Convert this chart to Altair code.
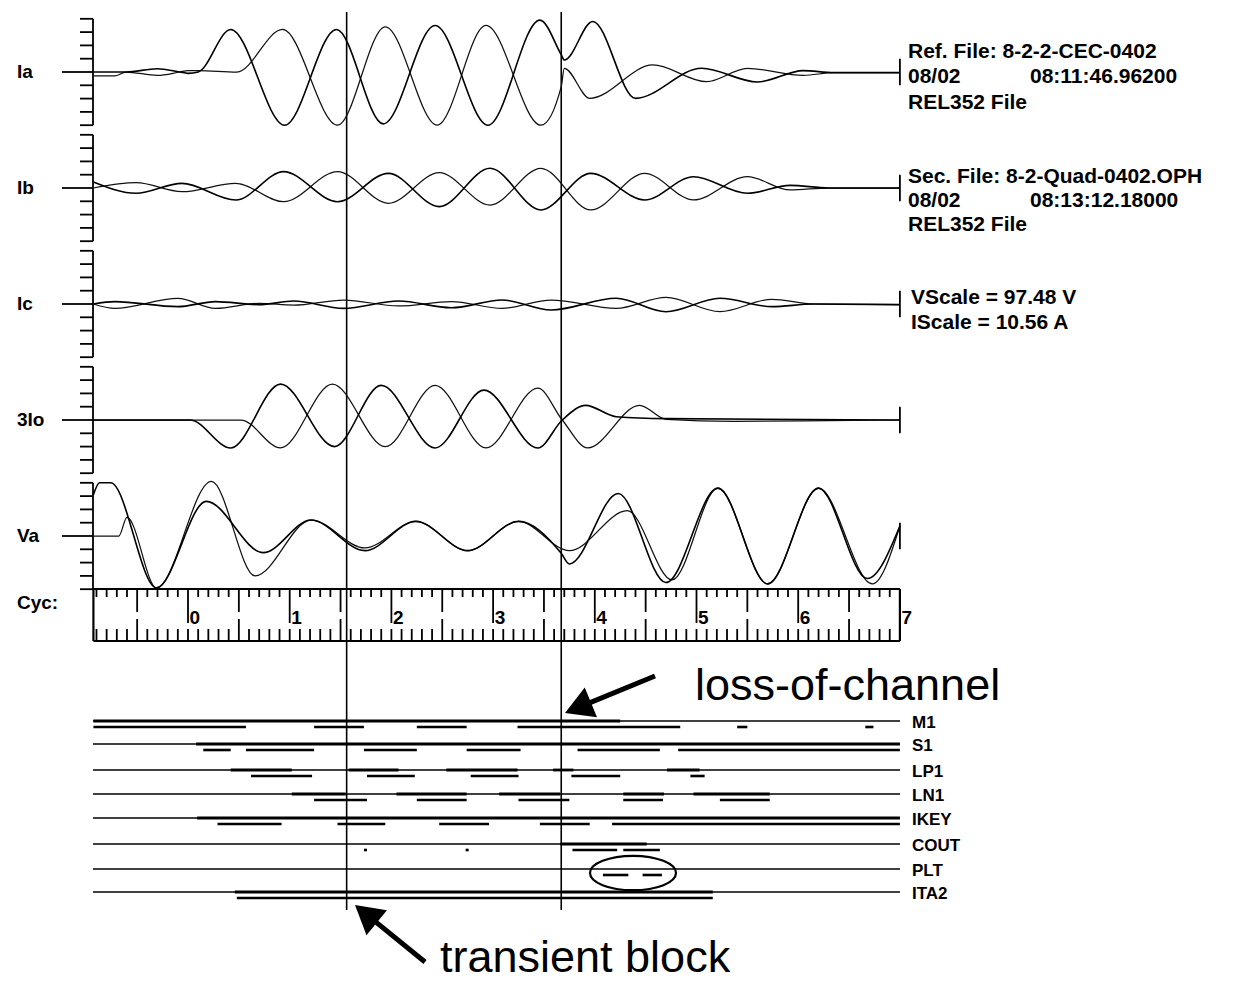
import math
import altair as alt
import numpy as np
import pandas as pd

# ----------------------------------------------------------------- data
# analog traces: time in cycles, value in scale divisions (ref file / sec file)
IA_REF_T = [-0.93, -0.72, -0.61, -0.30, -0.08, 0.00, 0.10, 0.42, 0.95, 1.46, 1.92, 2.43, 2.95, 3.46, 3.67, 3.70, 3.98, 4.40, 5.05, 5.60, 6.05, 6.35, 7.00]
IA_REF_V = [0.0, 0.0, 0.0, 0.25, 0.0, -0.1, 0.0, 3.2, -4.0, 3.2, -3.9, 3.5, -4.0, 3.9, 1.3, 0.9, 3.8, -1.98, 0.28, -0.75, 0.1, -0.05, -0.05]
IA_SEC_T = [-0.93, -0.72, -0.61, -0.30, -0.08, 0.00, 0.10, 0.48, 0.93, 1.47, 1.94, 2.45, 2.93, 3.47, 3.67, 3.70, 3.95, 4.57, 5.10, 5.50, 6.05, 6.35, 7.00]
IA_SEC_V = [-0.3, -0.3, 0.0, -0.25, 0.0, 0.1, 0.1, 0.0, 3.2, -4.0, 3.4, -4.0, 3.5, -4.0, -1.1, 0.28, -1.98, 0.53, -0.73, 0.28, -0.25, -0.05, -0.05]

IB_T = [-0.93, -0.51, -0.06, 0.47, 0.94, 1.47, 1.97, 2.47, 2.97, 3.47, 3.96, 4.49, 4.97, 5.50, 5.92, 6.30, 7.00]
IB_REF_V = [0.45, -0.4, 0.35, -0.9, 1.23, -1.03, 1.1, -1.4, 1.48, -1.65, 1.1, -0.9, 0.85, -0.4, 0.2, 0.0, 0.0]
IB_SEC_V = [0.0, 0.4, -0.28, 0.35, -1.03, 1.23, -1.15, 1.15, -1.28, 1.48, -1.65, 1.1, -0.9, 0.85, -0.15, 0.0, 0.0]

IC_T = [-0.93, -0.72, -0.10, 0.27, 0.70, 1.04, 1.53, 2.07, 2.59, 3.09, 3.57, 4.21, 4.70, 5.23, 5.74, 6.15, 7.00]
IC_REF_V = [0.0, 0.18, -0.2, 0.18, -0.05, 0.22, -0.33, 0.22, -0.28, 0.3, -0.45, 0.43, -0.58, 0.43, -0.2, 0.0, -0.05]
IC_SEC_V = [0.0, -0.33, 0.43, -0.33, 0.05, -0.08, 0.3, -0.15, 0.18, -0.33, 0.3, -0.33, 0.5, -0.58, 0.35, 0.0, -0.05]

I0_REF_T = [-0.93, 0.02, 0.42, 0.91, 1.44, 1.90, 2.43, 2.91, 3.44, 3.68, 3.91, 4.21, 4.70, 7.00]
I0_REF_V = [0.0, 0.0, -2.1, 2.7, -2.0, 2.6, -2.1, 2.25, -2.1, 0.0, 1.1, 0.25, 0.1, 0.0]
I0_SEC_T = [-0.93, 0.52, 0.91, 1.42, 1.94, 2.43, 2.93, 3.44, 3.68, 3.93, 4.44, 4.70, 5.36, 6.30, 7.00]
I0_SEC_V = [0.0, 0.0, -2.1, 2.7, -2.0, 2.6, -2.1, 2.4, 0.0, -2.1, 1.1, 0.05, -0.1, -0.05, 0.0]

VA_REF_T = [-0.93, -0.87, -0.76, -0.31, 0.18, 0.74, 1.21, 1.74, 2.24, 2.75, 3.25, 3.67, 3.75, 4.23, 4.70, 5.21, 5.70, 6.20, 6.68, 7.00]
VA_REF_V = [3.1, 4.0, 4.0, -3.9, 2.6, -1.25, 1.2, -1.1, 1.1, -1.1, 1.1, -1.3, -2.1, 3.2, -3.5, 3.6, -3.6, 3.6, -3.2, 0.75]
VA_SEC_T = [-0.93, -0.68, -0.60, -0.31, 0.23, 0.66, 1.21, 1.74, 2.24, 2.75, 3.25, 3.75, 4.32, 4.76, 5.21, 5.70, 6.20, 6.73, 7.00]
VA_SEC_V = [0.0, 0.0, 1.4, -3.9, 4.1, -3.0, 1.2, -0.9, 1.1, -1.1, 1.1, -1.1, 1.9, -3.3, 3.6, -3.6, 3.6, -3.6, 0.75]

CHANNELS = ["Ia", "Ib", "Ic", "3Io", "Va"]
TRACES = {
    "Ia": (IA_REF_T, IA_REF_V, IA_SEC_T, IA_SEC_V),
    "Ib": (IB_T, IB_REF_V, IB_T, IB_SEC_V),
    "Ic": (IC_T, IC_REF_V, IC_T, IC_SEC_V),
    "3Io": (I0_REF_T, I0_REF_V, I0_SEC_T, I0_SEC_V),
    "Va": (VA_REF_T, VA_REF_V, VA_SEC_T, VA_SEC_V),
}

CURSORS = [1.56, 3.67]
RULER_LABELS = [0, 1, 2, 3, 4, 5, 6, 7]
RULER_START, RULER_END = -0.93, 7.0

# digital channels: asserted intervals (cycles)
DIG_NAMES = ["M1", "S1", "LP1", "LN1", "IKEY", "COUT", "PLT", "ITA2"]
M1_REF = [(-0.93, 4.25)]
M1_SEC = [(-0.93, 0.57), (1.24, 1.73), (2.25, 2.74), (3.24, 4.84), (5.40, 5.50), (6.66, 6.74)]
S1_REF = [(0.08, 7.0)]
S1_SEC = [(0.15, 0.42), (0.57, 1.24), (1.73, 2.25), (2.74, 3.27), (3.83, 4.64), (4.82, 7.0)]
LP1_REF = [(0.42, 1.02), (1.58, 2.07), (2.54, 3.24), (3.59, 3.79), (4.71, 5.03)]
LP1_SEC = [(0.62, 1.22), (1.76, 2.23), (2.78, 3.25), (3.77, 4.25), (4.94, 5.08)]
LN1_REF = [(1.02, 1.55), (2.05, 2.74), (3.06, 3.66), (4.28, 4.68), (4.97, 5.72)]
LN1_SEC = [(1.24, 1.76), (2.25, 2.74), (3.25, 3.75), (4.28, 4.67), (5.23, 5.72)]
IKEY_REF = [(0.09, 7.0)]
IKEY_SEC = [(0.29, 0.92), (1.47, 1.94), (2.47, 2.96), (3.46, 3.95), (4.17, 7.0)]
COUT_REF = [(3.66, 4.51)]
COUT_SEC = [(1.73, 1.76), (2.73, 2.76), (3.78, 4.22), (4.28, 4.64)]
PLT_REF = []
PLT_SEC = [(4.08, 4.33), (4.47, 4.66)]
ITA2_REF = [(0.46, 5.16)]
ITA2_SEC = [(0.48, 5.16)]
DIG_REF = [M1_REF, S1_REF, LP1_REF, LN1_REF, IKEY_REF, COUT_REF, PLT_REF, ITA2_REF]
DIG_SEC = [M1_SEC, S1_SEC, LP1_SEC, LN1_SEC, IKEY_SEC, COUT_SEC, PLT_SEC, ITA2_SEC]

INFO_TEXT = ["Ref. File: 8-2-2-CEC-0402", "08/02", "08:11:46.96200", "REL352 File",
             "Sec. File: 8-2-Quad-0402.OPH", "08/02", "08:13:12.18000", "REL352 File",
             "VScale =  97.48 V", "IScale =  10.56 A"]
ANNOT_TEXT = ["loss-of-channel", "transient block"]

# ----------------------------------------------------------------- layout
W, H = 1222, 976
PX0, PXC = 188.0, 101.7      # page x of cycle 0, pixels per cycle
PY0, PYU = 72.0, 13.3        # page y of Ia zero line, pixels per division


def cx(px):
    return (px - PX0) / PXC


def uy(py):
    return (PY0 - py) / PYU


CH_BASE_PX = [72, 188, 304, 420, 536]
DIG_BASE_PX = [721, 744, 770, 794, 818, 844, 869, 892]
SEC_DY = 6
INFO_POS = [(908, 52), (908, 77), (1030, 77), (908, 103), (908, 177), (908, 201),
            (1030, 201), (908, 225), (911, 298), (911, 323)]

xs = alt.Scale(domain=[cx(8), cx(8 + W)], nice=False, zero=False)
ys = alt.Scale(domain=[uy(8 + H), uy(8)], nice=False, zero=False)


def X(f):
    return alt.X(f"{f}:Q", scale=xs, axis=None)


def Y(f):
    return alt.Y(f"{f}:Q", scale=ys, axis=None)


# traces
rows = []
for ch, bpx in zip(CHANNELS, CH_BASE_PX):
    rt, rv, st, sv = TRACES[ch]
    off = uy(bpx)
    for t, v in zip(rt, rv):
        rows.append(dict(ch=ch, f="ref", t=t, y=off + v))
    for t, v in zip(st, sv):
        rows.append(dict(ch=ch, f="sec", t=t, y=off + v))
tr = pd.DataFrame(rows)

ref_lines = alt.Chart(tr[tr.f == "ref"]).mark_line(
    interpolate="monotone", color="black", strokeWidth=1.6
).encode(x=X("t"), y=Y("y"), detail="ch:N")
sec_lines = alt.Chart(tr[tr.f == "sec"]).mark_line(
    interpolate="monotone", color="#111111", strokeWidth=1.25
).encode(x=X("t"), y=Y("y"), detail="ch:N")

# geometry rules (axes, ruler, cursors, digital lines)
geo = []


def seg(x1, x2, y1, y2, w):
    geo.append(dict(x=x1, x2=x2, y=y1, y2=y2, w=w))


ax_x = cx(93)
for bpx in CH_BASE_PX:
    off = uy(bpx)
    seg(ax_x, ax_x, off - 4, off + 4, 1.8)
    for i in range(-4, 5):
        seg(cx(62) if i == 0 else cx(80), ax_x, off + i, off + i, 1.8)
    seg(RULER_END, RULER_END, off - 1, off + 1, 1.8)

# ruler
r_top, r_bot = 589, 641
seg(RULER_START, RULER_END, uy(r_top), uy(r_top), 2.2)
seg(RULER_START, RULER_END, uy(r_bot), uy(r_bot), 2.2)
seg(RULER_START, RULER_START, uy(r_top), uy(r_bot), 2.2)
seg(RULER_END, RULER_END, uy(r_top), uy(r_bot), 2.2)
for t in np.round(np.arange(-0.9, 7.0001, 0.1), 1):
    if abs(t - round(t)) < 1e-6:
        lt, lb = 34, 12
    elif abs(2 * t - round(2 * t)) < 1e-6:
        lt, lb = 23, 22
    else:
        lt, lb = 8, 12
    seg(t, t, uy(r_top), uy(r_top + lt), 1.8)
    seg(t, t, uy(r_bot), uy(r_bot - lb), 1.8)

# cursors
for c in CURSORS:
    seg(c, c, uy(910), uy(12), 1.6)

# digital channels
for bpx, on_ref, on_sec in zip(DIG_BASE_PX, DIG_REF, DIG_SEC):
    seg(cx(93), cx(900), uy(bpx), uy(bpx), 1.3)
    for a, b in on_ref:
        seg(a, b, uy(bpx), uy(bpx), 2.8)
    for a, b in on_sec:
        seg(a, b, uy(bpx + SEC_DY), uy(bpx + SEC_DY), 2.6)

geo = pd.DataFrame(geo)
rules = alt.Chart(geo).mark_rule(color="black", strokeCap="butt").encode(
    x=X("x"), x2="x2:Q", y=Y("y"), y2="y2:Q",
    strokeWidth=alt.StrokeWidth("w:Q", scale=None),
)

# arrows
arrows_def = [((655, 676), (565, 713)), ((425, 962), (355, 905))]
shaft, heads = [], []
HEAD_H = 14.0
for (tx, ty), (hx, hy) in arrows_def:
    dx, dy = hx - tx, hy - ty
    n = math.hypot(dx, dy)
    ux_, uy_ = dx / n, dy / n
    ccx, ccy = hx - HEAD_H * ux_, hy - HEAD_H * uy_
    shaft.append(dict(x=cx(tx), x2=cx(ccx), y=uy(ty), y2=uy(ccy)))
    ang = math.degrees(math.atan2(ux_, -uy_)) % 360
    heads.append(dict(x=cx(ccx), y=uy(ccy), a=ang))
shaft_l = alt.Chart(pd.DataFrame(shaft)).mark_rule(color="black", strokeWidth=5).encode(
    x=X("x"), x2="x2:Q", y=Y("y"), y2="y2:Q")
head_r = HEAD_H / 0.866
head_l = alt.Chart(pd.DataFrame(heads)).mark_point(
    shape="triangle-up", filled=True, color="black", opacity=1, size=(2 * head_r) ** 2
).encode(x=X("x"), y=Y("y"), angle=alt.Angle("a:Q", scale=None))

# ellipse around PLT
ell = alt.Chart(pd.DataFrame([dict(x=cx(633), y=uy(873))])).mark_point(
    shape="M -1 0 A 1 0.4 0 1 1 1 0 A 1 0.4 0 1 1 -1 0 Z",
    filled=False, color="black", strokeWidth=2.2, opacity=1, size=86 ** 2,
).encode(x=X("x"), y=Y("y"))

# texts
FONT = "Liberation Sans"
left_df = pd.DataFrame(
    [dict(x=cx(17), y=uy(b), s=c) for c, b in zip(CHANNELS, CH_BASE_PX)]
    + [dict(x=cx(17), y=uy(603), s="Cyc:")]
)
left_t = alt.Chart(left_df).mark_text(
    align="left", baseline="middle", font=FONT, fontSize=19, fontWeight="bold", color="black"
).encode(x=X("x"), y=Y("y"), text="s:N")

info_df = pd.DataFrame([dict(x=cx(px), y=uy(py), s=s) for s, (px, py) in zip(INFO_TEXT, INFO_POS)])
info_t = alt.Chart(info_df).mark_text(
    align="left", baseline="middle", font=FONT, fontSize=21, fontWeight="bold", color="black"
).encode(x=X("x"), y=Y("y"), text="s:N")

dig_df = pd.DataFrame([dict(x=cx(912), y=uy(b + 2), s=n) for n, b in zip(DIG_NAMES, DIG_BASE_PX)])
dig_t = alt.Chart(dig_df).mark_text(
    align="left", baseline="middle", font=FONT, fontSize=17, fontWeight="bold", color="black"
).encode(x=X("x"), y=Y("y"), text="s:N")

rl_df = pd.DataFrame([dict(x=n + 0.015, y=uy(624), s=str(n)) for n in RULER_LABELS])
rl_t = alt.Chart(rl_df).mark_text(
    align="left", baseline="alphabetic", font=FONT, fontSize=19, fontWeight="bold", color="black"
).encode(x=X("x"), y=Y("y"), text="s:N")

an_df = pd.DataFrame([dict(x=cx(695), y=uy(700), s=ANNOT_TEXT[0]),
                      dict(x=cx(440), y=uy(972), s=ANNOT_TEXT[1])])
an_t = alt.Chart(an_df).mark_text(
    align="left", baseline="alphabetic", font=FONT, fontSize=45, color="black"
).encode(x=X("x"), y=Y("y"), text="s:N")

chart = alt.layer(
    rules, sec_lines, ref_lines, shaft_l, head_l, ell, left_t, info_t, dig_t, rl_t, an_t
).properties(
    width=W, height=H, padding=0, background="white",
    autosize=alt.AutoSizeParams(type="none"),
).configure_view(stroke=None)

chart.save("out.html", embed_options={"renderer": "svg", "actions": False})
